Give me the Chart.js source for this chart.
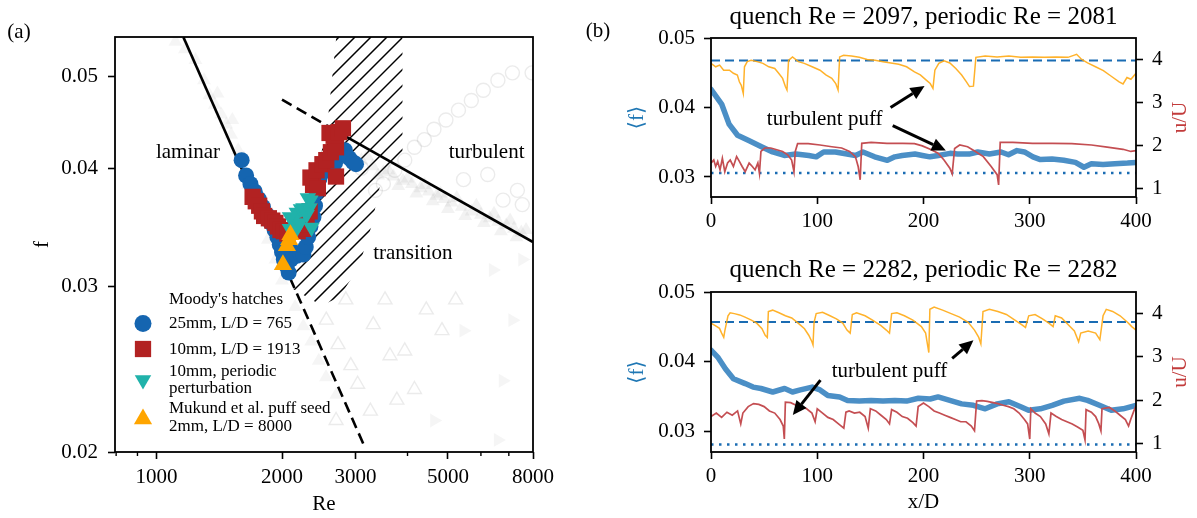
<!DOCTYPE html>
<html><head><meta charset="utf-8">
<script src="https://cdn.jsdelivr.net/npm/chart.js@4.4.1/dist/chart.umd.min.js"></script>
<style>
html,body{margin:0;padding:0;background:#fff;width:1197px;height:518px;overflow:hidden;}
canvas{position:absolute;}
</style></head><body>
<canvas id="ca" width="560" height="518" style="left:0px;top:0px;width:560px;height:518px"></canvas>
<canvas id="cb1" width="612" height="255" style="left:585px;top:0px;width:612px;height:255px"></canvas>
<canvas id="cb2" width="612" height="263" style="left:585px;top:255px;width:612px;height:263px"></canvas>
<script>
// ---------------- Panel (a) data ----------------
const aXTicks = [800, 900, 1000, 2000, 3000, 4000, 5000, 6000, 7000, 8000];
const aXLabels = [1000, 2000, 3000, 5000, 8000];
const aYTicks = [0.02, 0.03, 0.04, 0.05];

const blueRe = [1600,1640,1680,1720,1760,1800,1840,1880,1920,1950,1975,2000,2020,2050,2075,2100,2130,2170,2210,2250,2280,2310,2340,2380,2400,2420,2460,2520,2600,2680,2760,2830,2900,2960,3010];
const blueF  = [0.0408,0.0393,0.0385,0.0378,0.0371,0.0364,0.0357,0.0350,0.0344,0.0338,0.0332,0.0326,0.0320,0.0315,0.0310,0.0320,0.0326,0.0323,0.0325,0.0324,0.0330,0.0338,0.0347,0.0355,0.0365,0.0377,0.0390,0.0397,0.0401,0.0405,0.0414,0.0418,0.0410,0.0406,0.0404];

const redRe = [1700,1730,1763,1790,1812,1860,1895,1928,1955,1983,2020,2060,2180,2251,2291,2330,2374,2340,2438,2420,2500,2554,2620,2695,2600,2660,2741,2800,2695];
const redF  = [0.0373,0.0369,0.0365,0.0360,0.0356,0.0354,0.0352,0.0350,0.0347,0.0344,0.0343,0.0341,0.0343,0.0345,0.0349,0.0360,0.0384,0.0391,0.0381,0.0398,0.0404,0.0408,0.0416,0.0421,0.0436,0.0433,0.0437,0.0441,0.0392];

const tealRe = [2089,2130,2158,2170,2206,2220,2251,2291,2307,2328,2353,2340,2090];
const tealF  = [0.0345,0.0353,0.0344,0.0359,0.0350,0.0362,0.0363,0.0357,0.0372,0.0363,0.0346,0.0370,0.0355];

const mukRe = [2010,2055,2080,2095];
const mukF  = [0.0316,0.0331,0.0336,0.0340];

const lamSolidRe = [1160, 2090];   const lamSolidF = [0.0551, 0.0306];
const lamDashRe  = [2090, 3150];   const lamDashF  = [0.0306, 0.0203];
const turbDashRe = [2000, 2800];   const turbDashF = [0.0473, 0.0434];
const turbSolidRe= [2800, 8000];   const turbSolidF= [0.0434, 0.0334];

const hatchRe = [2094, 2330, 2566, 2720, 3890, 3890, 3430, 3270, 3054, 2746, 2490];
const hatchF  = [0.0299, 0.0365, 0.0443, 0.0570, 0.0570, 0.0415, 0.0382, 0.0346, 0.0314, 0.0292, 0.0286];

const grayLamRe = [1110,1170,1240,1300,1340,1380,1430,1470,1510,1570,1660,1770,1850,1930,2000,1400,1520,1620,2150,2250,2350,2450,2550,2700];
const grayLamF  = [0.0545,0.0535,0.0521,0.0496,0.0478,0.0467,0.0456,0.0445,0.0434,0.0418,0.0384,0.0361,0.0336,0.0320,0.0304,0.0480,0.0450,0.0410,0.0285,0.0272,0.0262,0.0250,0.0240,0.0230];
const grayCircRe = [3350,3730,3940,4155,4390,4630,4945,5300,5690,6080,6590,7140,7960,5450,6230,6780,7340,7540,3100,3500];
const grayCircF  = [0.0379,0.0398,0.0408,0.0421,0.0429,0.0440,0.0450,0.0461,0.0472,0.0484,0.0496,0.0505,0.0505,0.0389,0.0394,0.0370,0.0379,0.0366,0.0400,0.0385];
const grayBandRe = [2700,2900,3100,3300,3500,3700,3900,4100,4300,4500,4700,4900,5100,5400,5700,6000,6300,6600,6900,7200,7500,3000,3400,3800,4200,4600,5000,5500,6100,6700,7300,2800,3200,3600,4000,4400,4800,5250,5850,6450,7050,7700];
const grayBandF  = [0.0420,0.0415,0.0408,0.0402,0.0396,0.0392,0.0388,0.0385,0.0381,0.0378,0.0374,0.0371,0.0368,0.0364,0.0360,0.0357,0.0354,0.0351,0.0348,0.0345,0.0342,0.0405,0.0393,0.0383,0.0376,0.0369,0.0362,0.0356,0.0350,0.0343,0.0338,0.0425,0.0412,0.0398,0.0390,0.0384,0.0376,0.0372,0.0365,0.0358,0.0352,0.0344];
const grayTriRe = [2554,2725,2924,3037,3311,3533,3631,3772,4157,4437,4839,5219,3258,2696,3939,2845];
const grayTriF  = [0.0276,0.0260,0.0247,0.0236,0.0273,0.0290,0.0253,0.0227,0.0233,0.0283,0.0269,0.0290,0.0221,0.0216,0.0256,0.0290];
const grayRtRe = [6412,7141,6770,6590,4634,5450,7540];
const grayRtF  = [0.0312,0.0276,0.0238,0.0206,0.0216,0.0269,0.0320];

const aNotes = ['laminar', 'turbulent', 'transition'];
const aNoteRe = [1190, 6190, 4120];
const aNoteF  = [0.0416, 0.0416, 0.0325];

// ---------------- Panel (b) data ----------------
const bXTicks = [0, 100, 200, 300, 400];
const bFTicks = [0.03, 0.04, 0.05];
const bUTicks = [1, 2, 3, 4];

const topTitle = 'quench Re = 2097, periodic Re = 2081';
const topFX = [0,10,17,25,36,47,58,69,80,92,99,106,117,128,136,143,154,166,173,180,192,199,206,214,225,232,243,251,262,273,280,288,295,303,310,321,332,343,351,358,369,380,392,400];
const topF  = [0.0426,0.0405,0.0376,0.0360,0.0352,0.0344,0.0336,0.0331,0.0333,0.0331,0.0329,0.0336,0.0336,0.0333,0.0331,0.0336,0.0329,0.0324,0.0329,0.0331,0.0333,0.0331,0.0329,0.0331,0.0334,0.0333,0.0333,0.0336,0.0333,0.0336,0.0332,0.0338,0.0336,0.0329,0.0325,0.0326,0.0324,0.0321,0.0314,0.0319,0.0318,0.0319,0.0320,0.0321];
const topOX = [0,4.4,8.1,11.9,17.4,21.1,24.8,26.7,28.5,30.4,31.5,34.1,37.8,43.3,48.9,54.4,60,63.7,67.4,70,71.5,73,76.7,82.2,87.8,95.2,102.6,108.1,113.7,117.4,119.6,121.1,124.8,132.2,139.6,147,154.4,161.9,169.3,176.7,184.1,191.5,197,202.6,206.3,208.9,210.7,214.4,219.3,224.8,230.4,235.9,240.4,243.3,247,249.3,258.1,269.3,280.4,291.5,302.6,313.7,324.8,336,344.1,348.9,354.4,361.9,369.3,376.7,384.1,387.8,391.5,395.2,400];
const topOV = [3.91,3.83,3.87,3.75,3.75,3.68,3.64,3.48,3.40,3.21,3.83,3.95,3.98,3.95,3.91,3.83,3.79,3.68,3.56,3.37,3.29,3.98,4.06,3.95,3.91,3.83,3.75,3.64,3.56,3.44,3.29,4.06,4.10,4.08,4.05,4.0,3.98,3.95,3.92,3.89,3.83,3.71,3.64,3.52,3.44,3.33,3.75,3.91,3.97,3.92,3.79,3.64,3.48,3.37,3.38,4.05,4.08,4.06,4.08,4.05,4.06,4.05,4.06,4.05,4.12,4.0,3.92,3.83,3.74,3.61,3.48,3.43,3.58,3.54,3.68];
const topRX = [0,2.6,4.4,6.3,8.5,10.7,13,15.6,18.1,21.1,24.1,26.7,29.3,32.2,35.9,38.9,41.5,44.1,45.6,47,50.7,56.3,61.9,67.4,72.2,75.9,78.1,79.3,81.5,91.5,102.6,113.7,123,130.4,135.9,138.5,140.4,141.9,150.7,165.6,180.4,191.5,198.9,206.3,213.7,219.3,224.8,227,229.3,234.1,241.5,248.9,256.3,263.7,269.3,270.7,272.2,284.1,302.6,321.1,339.6,358.1,372.9,387.8,395.2,400];
const topRV = [1.59,1.66,1.51,1.63,1.43,1.70,1.39,1.59,1.66,1.51,1.74,1.63,1.51,1.39,1.59,1.51,1.43,1.59,1.35,1.86,1.94,1.94,1.90,1.86,1.78,1.66,1.39,1.86,2.04,2.04,2.01,1.97,1.94,1.86,1.74,1.51,1.20,2.05,2.07,2.05,2.05,2.04,1.99,1.91,1.82,1.66,1.47,1.34,1.93,2.01,1.97,1.86,1.74,1.51,1.32,1.08,2.07,2.07,2.05,2.05,2.04,2.01,1.96,1.91,1.86,1.88];
const topBlasius = 0.04676, topLaminar = 0.03057;
const topNote = [107, 0.0383];
const topArrows = [[169, 0.0400, 201, 0.0431], [171, 0.0374, 221, 0.0338]];

const botTitle = 'quench Re = 2282, periodic Re = 2282';
const botFX = [0,6.3,13.7,21.1,32.2,39.6,47,58.1,69.3,76.7,84.1,95.2,102.6,110,121.1,128.5,139.6,150.7,161.9,173,184.1,195.2,206.3,213.7,224.8,235.9,247,258.1,269.3,280.4,291.5,298.9,310,321.1,332.2,347,354.4,365.6,376.7,387.8,400];
const botF  = [0.0417,0.0407,0.0390,0.0376,0.0369,0.0364,0.0362,0.0357,0.0362,0.0357,0.0360,0.0364,0.0360,0.0352,0.0350,0.0345,0.0344,0.0345,0.0344,0.0345,0.0344,0.0348,0.0347,0.0350,0.0345,0.0340,0.0338,0.0333,0.0340,0.0343,0.0336,0.0331,0.0333,0.0338,0.0344,0.0348,0.0345,0.0338,0.0331,0.0333,0.0338];
const botOX = [0,4,8,10,12,13,16,18,22,27,32,38,43,48,51,53,54,58,64,70,76,82,88,92,95,96,97,99,105,112,118,124,128,131,133,137,145,152,160,165,168,170,175,182,190,198,202,205,206,210,218,226,234,242,248,252,254,256,262,270,278,286,292,296,299,305,312,318,322,324,330,336,342,346,348,355,362,366,369,372,378,385,392,396,400];
const botOV = [3.78,3.72,3.66,3.55,3.45,3.60,3.95,4.02,4.00,3.97,3.92,3.85,3.78,3.65,3.50,3.45,4.05,4.08,4.02,3.95,3.90,3.78,3.65,3.50,3.35,3.28,3.80,4.00,4.03,3.95,3.88,3.78,3.62,3.55,3.98,4.02,3.95,3.85,3.72,3.62,3.55,4.00,4.02,3.95,3.85,3.70,3.55,3.10,4.10,4.15,4.08,4.00,3.92,3.80,3.62,3.45,3.30,4.05,4.10,4.05,3.98,3.85,3.75,3.68,3.95,3.98,3.88,3.78,3.70,3.95,3.90,3.75,3.60,3.35,3.55,3.60,3.55,3.40,3.95,4.10,4.05,3.95,3.80,3.70,3.62];
const botRX = [0,5,10,15,20,25,28,30,35,40,45,50,55,60,65,68,69,70,75,80,85,90,95,98,100,105,110,115,120,125,127,130,135,140,145,148,150,155,160,165,168,170,175,180,185,190,193,195,200,205,210,215,220,225,230,235,240,245,248,250,255,260,270,275,280,285,290,295,298,300,301,305,310,315,318,320,325,330,335,340,345,350,352,353,358,362,365,367,368,375,380,385,390,393,395,398,400];
const botRV = [1.62,1.70,1.60,1.72,1.65,1.75,1.45,1.70,1.85,1.92,1.90,1.85,1.75,1.70,1.55,1.40,1.10,1.95,1.94,1.88,1.85,1.80,1.70,1.50,1.80,1.70,1.60,1.55,1.45,1.35,1.72,1.75,1.70,1.72,1.62,1.35,1.80,1.75,1.65,1.55,1.45,1.78,1.72,1.62,1.58,1.48,1.40,1.85,1.93,1.85,1.75,1.70,1.65,1.60,1.55,1.50,1.50,1.40,1.29,1.98,1.99,1.97,1.92,1.88,1.85,1.80,1.70,1.55,1.45,1.10,1.80,1.70,1.62,1.45,1.22,1.70,1.62,1.55,1.50,1.45,1.38,1.30,1.08,1.78,1.72,1.62,1.45,1.29,1.80,1.83,1.75,1.65,1.55,1.40,1.55,1.75,1.87];
const botBlasius = 0.04571, botLaminar = 0.02819;
const botNote = [168, 0.0386];
const botArrows = [[103, 0.0374, 77, 0.0324], [227, 0.0405, 247, 0.0431]];

// ---------------- helpers ----------------
const FONT = "'Liberation Serif','DejaVu Serif',serif";
Chart.defaults.font.family = FONT;
Chart.defaults.font.size = 21;
Chart.defaults.color = '#000';
const pts = (xs, ys) => xs.map((v, i) => ({x: v, y: ys[i]}));

const framePlugin = {
  id: 'frame',
  afterDraw(chart) {
    const {ctx, chartArea: a} = chart;
    ctx.save();
    ctx.strokeStyle = '#000'; ctx.lineWidth = 1.8;
    ctx.strokeRect(a.left, a.top, a.right - a.left, a.bottom - a.top);
    ctx.restore();
  }
};

function arrow(ctx, x1, y1, x2, y2) {
  const ang = Math.atan2(y2 - y1, x2 - x1), L = 14, W = 6.5;
  const bx = x2 - L * Math.cos(ang), by = y2 - L * Math.sin(ang);
  ctx.beginPath(); ctx.moveTo(x1, y1); ctx.lineTo(bx, by);
  ctx.lineWidth = 3; ctx.strokeStyle = '#000'; ctx.stroke();
  ctx.beginPath(); ctx.moveTo(x2, y2);
  ctx.lineTo(bx - W * Math.sin(ang), by + W * Math.cos(ang));
  ctx.lineTo(bx + W * Math.sin(ang), by - W * Math.cos(ang));
  ctx.closePath(); ctx.fillStyle = '#000'; ctx.fill();
}

// ---------------- Panel (a) ----------------
const hatchPlugin = {
  id: 'hatch',
  beforeDatasetsDraw(chart) {
    const {ctx, chartArea: a, scales: {x, y}} = chart;
    ctx.save();
    ctx.beginPath(); ctx.rect(a.left, a.top, a.right - a.left, a.bottom - a.top); ctx.clip();
    ctx.beginPath();
    hatchRe.forEach((r, i) => {
      const px = x.getPixelForValue(r), py = y.getPixelForValue(hatchF[i]);
      if (i) ctx.lineTo(px, py); else ctx.moveTo(px, py);
    });
    ctx.closePath(); ctx.clip();
    ctx.strokeStyle = '#000'; ctx.lineWidth = 1.5;
    ctx.beginPath();
    const H = a.bottom - a.top;
    for (let k = a.left - H; k < a.right + 20; k += 16) {
      ctx.moveTo(k, a.bottom); ctx.lineTo(k + H, a.top);
    }
    ctx.stroke();
    ctx.restore();
  }
};

const panelAExtras = {
  id: 'panelAExtras',
  afterDraw(chart) {
    const {ctx, chartArea: a, scales: {x, y}} = chart;
    ctx.save();
    ctx.strokeStyle = '#000'; ctx.lineWidth = 1.4;
    aXTicks.filter(v => !aXLabels.includes(v)).forEach(v => {
      const px = x.getPixelForValue(v);
      ctx.beginPath(); ctx.moveTo(px, a.bottom); ctx.lineTo(px, a.bottom + 4); ctx.stroke();
    });
    ctx.fillStyle = '#000'; ctx.font = '21px ' + FONT;
    ctx.textAlign = 'center'; ctx.textBaseline = 'middle';
    aNotes.forEach((t, i) => ctx.fillText(t, x.getPixelForValue(aNoteRe[i]), y.getPixelForValue(aNoteF[i])));
    ctx.fillText('(a)', 19, 32);
    ctx.font = '17px ' + FONT; ctx.textAlign = 'left';
    const tx = 169, mx = 143;
    ctx.fillText("Moody's hatches", tx, 300);
    ctx.fillText('25mm, L/D = 765', tx, 324);
    ctx.fillText('10mm, L/D = 1913', tx, 350);
    ctx.fillText('10mm, periodic', tx, 371.5);
    ctx.fillText('perturbation', tx, 389);
    ctx.fillText('Mukund et al. puff seed', tx, 408.5);
    ctx.fillText('2mm, L/D = 8000', tx, 426.5);
    const mk = (style, r, rot, col, yy) => {
      ctx.fillStyle = col; ctx.strokeStyle = col;
      Chart.helpers.drawPoint(ctx, {pointStyle: style, radius: r, rotation: rot, borderWidth: 0}, mx, yy);
    };
    mk('circle', 8.5, 0, '#1565b0', 323.5);
    mk('rect', 11.5, 0, '#b22222', 349);
    mk('triangle', 9.5, 180, '#20b2aa', 380);
    mk('triangle', 10.5, 0, '#ffa500', 419);
    ctx.restore();
  }
};

const scat = (xs, ys, style, r, col, order, extra) => Object.assign({
  data: pts(xs, ys), pointStyle: style, pointRadius: r, pointHoverRadius: r,
  pointBackgroundColor: col, backgroundColor: col, pointBorderColor: col, pointBorderWidth: 0,
  showLine: false, order: order
}, extra || {});
const lineDs = (xs, ys, dash, order) => ({
  data: pts(xs, ys), showLine: true, pointRadius: 0, borderColor: '#000', borderWidth: 2.6,
  borderDash: dash, order: order, backgroundColor: '#000'
});
const grayFill = 'rgba(110,110,110,0.07)';
const grayEdge = 'rgba(120,120,120,0.15)';

new Chart(document.getElementById('ca'), {
  type: 'scatter',
  data: {datasets: [
    scat(mukRe, mukF, 'triangle', 10.5, '#ffa500', 1),
    scat(tealRe, tealF, 'triangle', 9.5, '#20b2aa', 2, {pointRotation: 180}),
    scat(redRe, redF, 'rect', 11.5, '#b22222', 3),
    scat(blueRe, blueF, 'circle', 8, '#1565b0', 4),
    lineDs(lamSolidRe, lamSolidF, [], 5),
    lineDs(lamDashRe, lamDashF, [11, 6], 5),
    lineDs(turbDashRe, turbDashF, [11, 6], 5),
    lineDs(turbSolidRe, turbSolidF, [], 5),
    scat(grayBandRe, grayBandF, 'triangle', 8, 'rgba(110,110,110,0.09)', 10),
    scat(grayLamRe, grayLamF, 'triangle', 8, grayFill, 10),
    scat(grayRtRe, grayRtF, 'triangle', 8, grayFill, 10, {pointRotation: 90}),
    scat(grayCircRe, grayCircF, 'circle', 7, 'rgba(0,0,0,0)', 11, {pointBorderColor: grayEdge, pointBorderWidth: 1.4}),
    scat(grayTriRe, grayTriF, 'triangle', 8, 'rgba(0,0,0,0)', 11, {pointBorderColor: grayEdge, pointBorderWidth: 1.4})
  ]},
  options: {
    responsive: false, devicePixelRatio: 1, animation: false,
    layout: {padding: {top: 37, right: 19, left: 0, bottom: 0}},
    plugins: {legend: {display: false}, tooltip: {enabled: false}},
    scales: {
      x: {
        type: 'logarithmic', min: 795, max: 8000,
        afterBuildTicks: s => { s.ticks = aXTicks.map(v => ({value: v})); },
        afterFit: s => { s.height = 66; },
        ticks: {autoSkip: false, maxRotation: 0, padding: 6, callback: v => aXLabels.includes(v) ? String(v) : ''},
        grid: {drawOnChartArea: false, drawTicks: true, tickLength: 7, tickWidth: 1.6,
               tickColor: c => (c.tick && aXLabels.includes(c.tick.value)) ? '#000' : 'rgba(0,0,0,0)'},
        border: {display: false},
        title: {display: true, text: 'Re', padding: {top: 0, bottom: 1}}
      },
      y: {
        type: 'logarithmic', min: 0.02, max: 0.05512,
        afterBuildTicks: s => { s.ticks = aYTicks.map(v => ({value: v})); },
        afterFit: s => { s.width = 115; },
        ticks: {autoSkip: false, padding: 10, callback: v => Number(v).toFixed(2)},
        grid: {drawOnChartArea: false, drawTicks: true, tickLength: 7, tickWidth: 1.6, tickColor: '#000'},
        border: {display: false},
        title: {display: true, text: 'f', padding: {top: 30, bottom: 0}}
      }
    }
  },
  plugins: [hatchPlugin, framePlugin, panelAExtras]
});

// ---------------- Panel (b) ----------------
function makeB(id, title, fx, fy, ox, oy, rx, ry, blas, lam, note, arrows, cfg) {
  const notePlugin = {
    id: 'notes' + id,
    afterDraw(chart) {
      const {ctx, chartArea: a, scales: {x, y}} = chart;
      ctx.save();
      ctx.fillStyle = '#000'; ctx.font = '21px ' + FONT;
      ctx.textAlign = 'center'; ctx.textBaseline = 'middle';
      ctx.fillText('turbulent puff', x.getPixelForValue(note[0]), y.getPixelForValue(note[1]));
      arrows.forEach(r => arrow(ctx, x.getPixelForValue(r[0]), y.getPixelForValue(r[1]),
                                     x.getPixelForValue(r[2]), y.getPixelForValue(r[3])));
      ctx.translate(595, (a.top + a.bottom) / 2);
      ctx.rotate(-Math.PI / 2);
      ctx.fillStyle = '#c23b3b';
      ctx.fillText('u/U', 0, 0);
      ctx.restore();
      if (cfg.panelLabel) {
        ctx.save(); ctx.fillStyle = '#000'; ctx.font = '21px ' + FONT;
        ctx.textAlign = 'center'; ctx.textBaseline = 'middle';
        ctx.fillText('(b)', 13, 31); ctx.restore();
      }
    }
  };
  const thin = (xs, ys, col, w, order) => ({
    data: pts(xs, ys), yAxisID: 'y2', borderColor: col, borderWidth: w, pointRadius: 0, order: order, tension: 0
  });
  return new Chart(document.getElementById(id), {
    type: 'line',
    data: {datasets: [
      thin(rx, ry, '#c44e52', 1.7, 1),
      {data: pts(fx, fy), yAxisID: 'y', borderColor: '#4b8fc6', borderWidth: 5.5, pointRadius: 0, order: 2, borderCapStyle: 'round', borderJoinStyle: 'round'},
      thin(ox, oy, 'rgba(255,170,20,0.9)', 1.5, 3),
      {data: [{x: 0, y: blas}, {x: 400, y: blas}], yAxisID: 'y', borderColor: '#1a6cb3', borderWidth: 2.2, borderDash: [9, 5], pointRadius: 0, order: 4},
      {data: [{x: 0, y: lam}, {x: 400, y: lam}], yAxisID: 'y', borderColor: '#1a6cb3', borderWidth: 2.4, borderDash: [2.5, 5.5], pointRadius: 0, order: 4}
    ]},
    options: {
      responsive: false, devicePixelRatio: 1, animation: false,
      layout: {padding: 0},
      plugins: {
        legend: {display: false}, tooltip: {enabled: false},
        title: {display: true, text: title, fullSize: false, font: {size: 25, weight: 'normal'},
                padding: {top: cfg.titleTop, bottom: cfg.titleBottom}, color: '#000'}
      },
      scales: {
        x: {
          type: 'linear', min: 0, max: 400,
          afterBuildTicks: s => { s.ticks = bXTicks.map(v => ({value: v})); },
          afterFit: s => { s.height = cfg.xHeight; },
          ticks: {padding: 5, maxRotation: 0, autoSkip: false},
          grid: {drawOnChartArea: false, drawTicks: true, tickLength: 7, tickWidth: 1.6, tickColor: '#000'},
          border: {display: false},
          title: {display: cfg.xTitle, text: 'x/D', padding: {top: 0, bottom: 3}}
        },
        y: {
          type: 'linear', position: 'left', min: 0.02712, max: 0.05,
          afterBuildTicks: s => { s.ticks = bFTicks.map(v => ({value: v})); },
          afterFit: s => { s.width = 126; },
          ticks: {padding: 9, callback: v => Number(v).toFixed(2)},
          grid: {drawOnChartArea: false, drawTicks: true, tickLength: 7, tickWidth: 1.6, tickColor: '#000'},
          border: {display: false},
          title: {display: true, text: '⟨f⟩', color: '#1f77b4', padding: {top: 40, bottom: 0}}
        },
        y2: {
          type: 'linear', position: 'right', min: 0.8, max: 4.5,
          afterBuildTicks: s => { s.ticks = bUTicks.map(v => ({value: v})); },
          afterFit: s => { s.width = 61; },
          ticks: {padding: 9, callback: v => String(v)},
          grid: {drawOnChartArea: false, drawTicks: true, tickLength: 7, tickWidth: 1.6, tickColor: '#000'},
          border: {display: false}
        }
      }
    },
    plugins: [framePlugin, notePlugin]
  });
}

makeB('cb1', topTitle, topFX, topF, topOX, topOV, topRX, topRV, topBlasius, topLaminar, topNote, topArrows,
      {titleTop: 2, titleBottom: 6, xHeight: 58, xTitle: false, panelLabel: true});
makeB('cb2', botTitle, botFX, botF, botOX, botOV, botRX, botRV, botBlasius, botLaminar, botNote, botArrows,
      {titleTop: 0, titleBottom: 7, xHeight: 66, xTitle: true, panelLabel: false});
</script>
</body></html>
